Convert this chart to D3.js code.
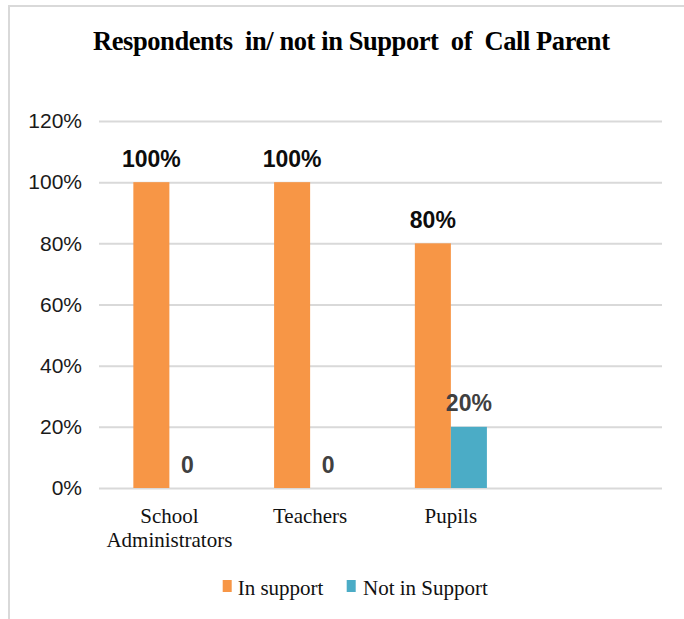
<!DOCTYPE html>
<html>
<head>
<meta charset="utf-8">
<script src="https://cdn.jsdelivr.net/npm/d3@7/dist/d3.min.js"></script>
<style>
  html, body { margin: 0; padding: 0; background: #fff; }
  svg { display: block; }
</style>
</head>
<body>
<svg id="chart" width="684" height="619"></svg>
<script>
// ---- data ----
const categories = ["School Administrators", "Teachers", "Pupils", ""];
const inSupport = [100, 100, 80, null];
const notInSupport = [0, 0, 20, null];
const seriesNames = ["In support", "Not in Support"];
const yTicks = [0, 20, 40, 60, 80, 100, 120];
const titleText = "Respondents  in/ not in Support  of  Call Parent";

// ---- layout ----
const plotLeft = 99, plotRight = 662, plotTop = 121, plotBottom = 488;
const colors = ["#F79646", "#4BACC6"];

const svg = d3.select("#chart");

// outer chart border (clipped by window on right/bottom)
svg.append("rect")
  .attr("x", 9).attr("y", 6).attr("width", 720).attr("height", 700)
  .attr("fill", "#fff").attr("stroke", "#d9d9d9").attr("stroke-width", 2);

// title
svg.append("text")
  .attr("x", 351.5).attr("y", 50)
  .attr("text-anchor", "middle")
  .attr("font-family", "Liberation Serif, Times New Roman, serif")
  .attr("font-weight", "bold")
  .attr("font-size", 26.5)
  .attr("fill", "#000")
  .style("white-space", "pre")
  .attr("textLength", 517).attr("lengthAdjust", "spacing")
  .text(titleText);

const x = d3.scaleBand().domain(categories).range([plotLeft, plotRight])
  .paddingInner(0.488).paddingOuter(0.244);
const x1 = d3.scaleBand().domain([0, 1]).range([0, x.bandwidth()]);
const y = d3.scaleLinear().domain([0, 120]).range([plotBottom, plotTop]);

// gridlines
const grid = svg.append("g").attr("transform", `translate(${plotLeft},0)`)
  .call(d3.axisLeft(y).tickValues(yTicks).tickSize(-(plotRight - plotLeft)).tickFormat(""));
grid.select(".domain").remove();
grid.selectAll(".tick line").attr("stroke", "#d9d9d9").attr("stroke-width", 2);

// y axis labels
const yAxis = svg.append("g").attr("transform", `translate(${plotLeft},0)`)
  .call(d3.axisLeft(y).tickValues(yTicks).tickSize(0).tickPadding(17).tickFormat(d => d + "%"));
yAxis.select(".domain").remove();
yAxis.selectAll(".tick text")
  .attr("font-family", "Liberation Sans, Arial, sans-serif")
  .attr("font-size", 21)
  .attr("fill", "#1a1a1a");

// bars
const series = [inSupport, notInSupport];
const labelColors = ["#0d0d0d", "#404040"];
series.forEach((vals, si) => {
  const g = svg.append("g");
  const data = categories.map((c, i) => ({ c, v: vals[i] })).filter(d => d.v !== null);
  g.selectAll("rect").data(data).join("rect")
    .attr("x", d => x(d.c) + x1(si))
    .attr("y", d => y(d.v))
    .attr("width", x1.bandwidth())
    .attr("height", d => y(0) - y(d.v))
    .attr("fill", colors[si]);
  g.selectAll("text").data(data).join("text")
    .attr("x", d => x(d.c) + x1(si) + x1.bandwidth() / 2)
    .attr("y", d => y(d.v) - 15.5)
    .attr("text-anchor", "middle")
    .attr("font-family", "Liberation Sans, Arial, sans-serif")
    .attr("font-weight", "bold")
    .attr("font-size", 23)
    .attr("fill", labelColors[si])
    .text(d => d.v === 0 ? "0" : d.v + "%");
});

// category labels
categories.forEach(c => {
  if (!c) return;
  const words = c.split(" ");
  const t = svg.append("text")
    .attr("text-anchor", "middle")
    .attr("font-family", "Liberation Serif, Times New Roman, serif")
    .attr("font-size", 21)
    .attr("fill", "#111");
  words.forEach((w, i) => {
    t.append("tspan")
      .attr("x", x(c) + x.bandwidth() / 2)
      .attr("y", 523 + i * 23.5)
      .text(w);
  });
});

// legend
const legendItems = [
  { name: seriesNames[0], color: colors[0], rx: 222.7, tx: 237.7 },
  { name: seriesNames[1], color: colors[1], rx: 346.7, tx: 363 }
];
legendItems.forEach(it => {
  svg.append("rect").attr("x", it.rx).attr("y", 580).attr("width", 9).attr("height", 12)
    .attr("fill", it.color);
  svg.append("text").attr("x", it.tx).attr("y", 595)
    .attr("font-family", "Liberation Serif, Times New Roman, serif")
    .attr("font-size", 21)
    .attr("fill", "#111")
    .text(it.name);
});
</script>
</body>
</html>
